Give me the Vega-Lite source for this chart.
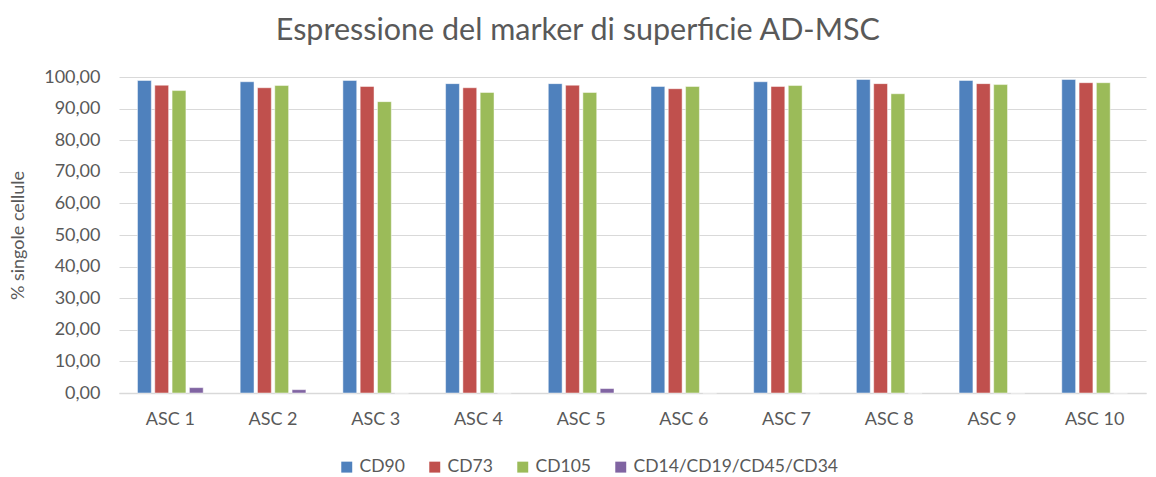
{
  "$schema": "https://vega.github.io/schema/vega-lite/v6.json",
  "width": 1027,
  "height": 316,
  "autosize": {"type": "pad"},
  "padding": {"left": 9, "top": 15, "right": 11, "bottom": 2},
  "background": "white",
  "title": {
    "text": "Espressione del marker di superficie AD-MSC",
    "font": "Lato",
    "fontSize": 30.5,
    "fontWeight": "normal",
    "color": "#595959",
    "offset": 22,
    "anchor": "middle",
    "frame": "bounds"
  },
  "data": {
    "values": [
      {"s": "ASC 1", "m": "CD90", "v": 98.9},
      {"s": "ASC 1", "m": "CD73", "v": 97.4},
      {"s": "ASC 1", "m": "CD105", "v": 95.7},
      {"s": "ASC 1", "m": "CD14/CD19/CD45/CD34", "v": 1.7},
      {"s": "ASC 2", "m": "CD90", "v": 98.5},
      {"s": "ASC 2", "m": "CD73", "v": 96.6},
      {"s": "ASC 2", "m": "CD105", "v": 97.3},
      {"s": "ASC 2", "m": "CD14/CD19/CD45/CD34", "v": 1.05},
      {"s": "ASC 3", "m": "CD90", "v": 98.9},
      {"s": "ASC 3", "m": "CD73", "v": 97.0},
      {"s": "ASC 3", "m": "CD105", "v": 92.2},
      {"s": "ASC 3", "m": "CD14/CD19/CD45/CD34", "v": 0},
      {"s": "ASC 4", "m": "CD90", "v": 97.9},
      {"s": "ASC 4", "m": "CD73", "v": 96.6},
      {"s": "ASC 4", "m": "CD105", "v": 95.1},
      {"s": "ASC 4", "m": "CD14/CD19/CD45/CD34", "v": 0},
      {"s": "ASC 5", "m": "CD90", "v": 97.9},
      {"s": "ASC 5", "m": "CD73", "v": 97.4},
      {"s": "ASC 5", "m": "CD105", "v": 95.1},
      {"s": "ASC 5", "m": "CD14/CD19/CD45/CD34", "v": 1.4},
      {"s": "ASC 6", "m": "CD90", "v": 97.0},
      {"s": "ASC 6", "m": "CD73", "v": 96.3},
      {"s": "ASC 6", "m": "CD105", "v": 97.0},
      {"s": "ASC 6", "m": "CD14/CD19/CD45/CD34", "v": 0},
      {"s": "ASC 7", "m": "CD90", "v": 98.5},
      {"s": "ASC 7", "m": "CD73", "v": 97.0},
      {"s": "ASC 7", "m": "CD105", "v": 97.3},
      {"s": "ASC 7", "m": "CD14/CD19/CD45/CD34", "v": 0},
      {"s": "ASC 8", "m": "CD90", "v": 99.2},
      {"s": "ASC 8", "m": "CD73", "v": 97.9},
      {"s": "ASC 8", "m": "CD105", "v": 94.7},
      {"s": "ASC 8", "m": "CD14/CD19/CD45/CD34", "v": 0},
      {"s": "ASC 9", "m": "CD90", "v": 98.9},
      {"s": "ASC 9", "m": "CD73", "v": 97.9},
      {"s": "ASC 9", "m": "CD105", "v": 97.6},
      {"s": "ASC 9", "m": "CD14/CD19/CD45/CD34", "v": 0},
      {"s": "ASC 10", "m": "CD90", "v": 99.2},
      {"s": "ASC 10", "m": "CD73", "v": 98.2},
      {"s": "ASC 10", "m": "CD105", "v": 98.2},
      {"s": "ASC 10", "m": "CD14/CD19/CD45/CD34", "v": 0}
    ]
  },
  "mark": {"type": "bar", "stroke": "white", "strokeWidth": 0.8, "strokeOpacity": 0.6},
  "encoding": {
    "x": {
      "field": "s",
      "type": "nominal",
      "sort": null,
      "title": null,
      "scale": {"paddingInner": 0.36, "paddingOuter": 0.18},
      "axis": {
        "labelAngle": 0,
        "labelFont": "Lato",
        "labelFontSize": 18,
        "labelColor": "#595959",
        "domainColor": "#d9d9d9",
        "domainWidth": 1.5,
        "ticks": false,
        "labelPadding": 17
      }
    },
    "xOffset": {
      "field": "m",
      "type": "nominal",
      "sort": ["CD90", "CD73", "CD105", "CD14/CD19/CD45/CD34"],
      "scale": {"paddingInner": 0.2}
    },
    "y": {
      "field": "v",
      "type": "quantitative",
      "scale": {"domain": [0, 100]},
      "title": "% singole cellule",
      "axis": {
        "values": [0, 10, 20, 30, 40, 50, 60, 70, 80, 90, 100],
        "labelExpr": "replace(format(datum.value, '.2f'), '.', ',')",
        "labelFont": "Lato",
        "labelFontSize": 18,
        "labelColor": "#595959",
        "titleFont": "Lato",
        "titleFontSize": 18,
        "titleFontWeight": "normal",
        "titleColor": "#595959",
        "titlePadding": 16,
        "domain": false,
        "ticks": false,
        "labelPadding": 19,
        "gridColor": "#d9d9d9",
        "gridWidth": 1.2
      }
    },
    "color": {
      "field": "m",
      "type": "nominal",
      "sort": ["CD90", "CD73", "CD105", "CD14/CD19/CD45/CD34"],
      "scale": {
        "domain": ["CD90", "CD73", "CD105", "CD14/CD19/CD45/CD34"],
        "range": ["#4F81BD", "#C0504D", "#9BBB59", "#8064A2"]
      },
      "legend": {
        "title": null,
        "orient": "none",
        "legendX": 219,
        "legendY": 381,
        "direction": "horizontal",
        "symbolType": "square",
        "symbolSize": 120,
        "symbolStrokeWidth": 0,
        "labelFont": "Lato",
        "labelFontSize": 17.5,
        "labelColor": "#595959",
        "labelLimit": 0,
        "columnPadding": 21
      }
    }
  },
  "config": {"view": {"stroke": null}}
}
